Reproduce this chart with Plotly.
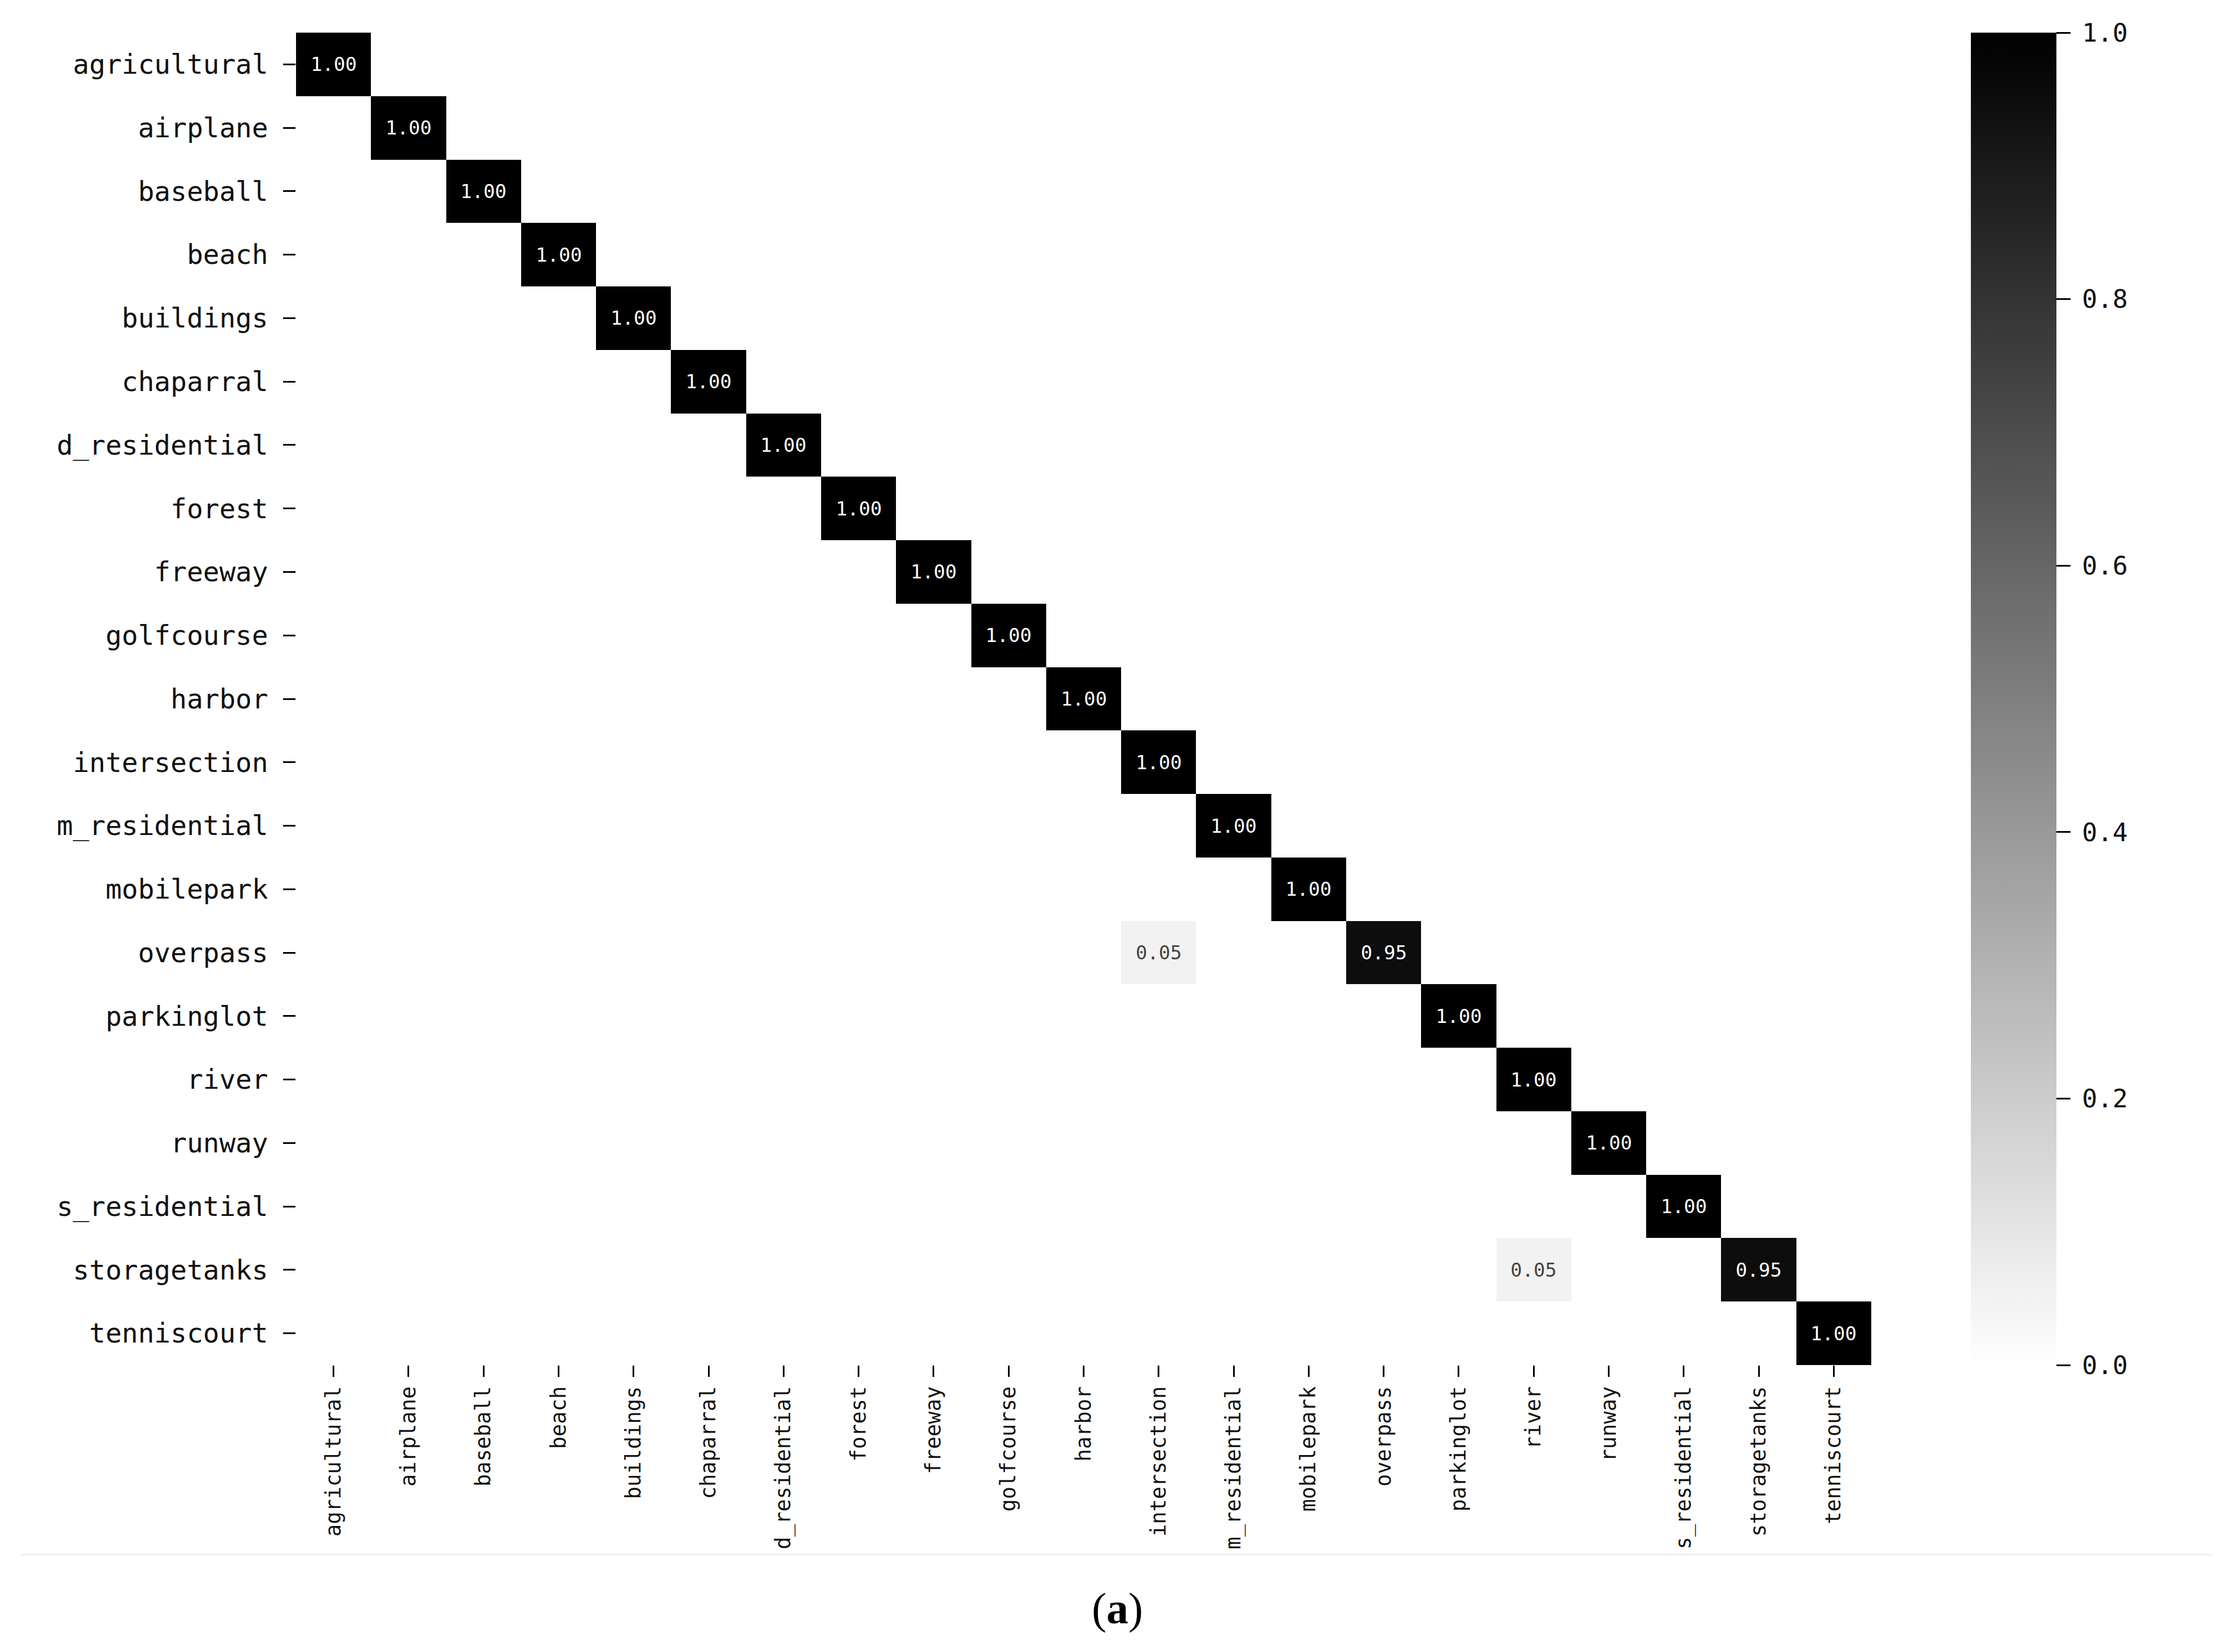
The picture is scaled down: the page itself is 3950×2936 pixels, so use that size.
import plotly.graph_objects as go

classes = ["agricultural", "airplane", "baseball", "beach", "buildings", "chaparral",
           "d_residential", "forest", "freeway", "golfcourse", "harbor", "intersection",
           "m_residential", "mobilepark", "overpass", "parkinglot", "river", "runway",
           "s_residential", "storagetanks", "tenniscourt"]

# confusion values (row = true class, column = predicted class); empty = 0 (masked)
diag_values = [1.00, 1.00, 1.00, 1.00, 1.00, 1.00, 1.00, 1.00, 1.00, 1.00, 1.00,
               1.00, 1.00, 1.00, 0.95, 1.00, 1.00, 1.00, 1.00, 0.95, 1.00]
off_rows = ["overpass", "storagetanks"]
off_cols = ["intersection", "river"]
off_values = [0.05, 0.05]
colorbar_ticks = [0.0, 0.2, 0.4, 0.6, 0.8, 1.0]

n = len(classes)
z = [[None] * n for _ in range(n)]
for i, v in enumerate(diag_values):
    z[i][i] = v
for r, c, v in zip(off_rows, off_cols, off_values):
    z[classes.index(r)][classes.index(c)] = v

W, H = 3950, 2936
OFF = 8  # page body margin compensation
L, R, T, B = 526 - OFF, 3325 - OFF, 58 - OFF, 2426 - OFF
pw, ph = R - L, B - T

mono = "DejaVu Sans Mono"
gap = '<span style="font-size:20px"> </span>'

fig = go.Figure(go.Heatmap(
    z=z, x=classes, y=classes,
    colorscale=[[0, "#ffffff"], [1, "#000000"]],
    zmin=0, zmax=1,
    texttemplate="%{z:.2f}",
    textfont=dict(family=mono, size=34),
    colorbar=dict(
        x=(3502 - OFF - L) / pw, xanchor="left", xpad=0,
        y=0.5, yanchor="middle", len=1, lenmode="fraction", ypad=0,
        thickness=152, outlinewidth=0,
        tickvals=colorbar_ticks, ticktext=[f"{gap}{t:.1f}" for t in colorbar_ticks],
        ticks="outside", ticklen=25, tickwidth=3, tickcolor="#000",
        tickfont=dict(family=mono, size=45, color="#111"),
    ),
    hoverongaps=False,
))

fig.update_xaxes(
    type="category", tickangle=-90, showgrid=False, zeroline=False, showline=False,
    automargin=False,
    ticks="outside", ticklen=20, tickwidth=3, tickcolor="#000",
    tickfont=dict(family=mono, size=37, color="#111"),
    ticklabelstandoff=2,
)
fig.update_yaxes(
    type="category", autorange="reversed", showgrid=False, zeroline=False, showline=False,
    automargin=False,
    ticks="outside", ticklen=22, tickwidth=3, tickcolor="#000",
    tickfont=dict(family=mono, size=48, color="#111"),
    ticklabelstandoff=17,
)

fig.add_shape(type="line", xref="paper", yref="paper",
              x0=(38 - OFF - L) / pw, x1=(3930 - OFF - L) / pw,
              y0=(B - (2763 - OFF)) / ph, y1=(B - (2763 - OFF)) / ph,
              line=dict(color="#efefef", width=3))
fig.add_annotation(text="(<b>a</b>)", xref="paper", yref="paper",
                   x=(1985 - OFF - L) / pw, y=(B - (2858 - OFF)) / ph,
                   xanchor="center", yanchor="middle", showarrow=False,
                   font=dict(family="Liberation Serif", size=78, color="#000"))

fig.update_layout(
    width=W, height=H,
    margin=dict(l=L, r=W - R, t=T, b=H - B, pad=0, autoexpand=False),
    plot_bgcolor="#ffffff", paper_bgcolor="#ffffff",
)

fig.write_html("out.html")
